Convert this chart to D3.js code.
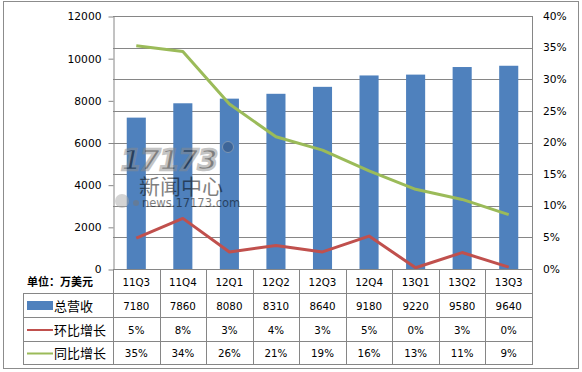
<!DOCTYPE html>
<html lang="zh">
<head>
<meta charset="utf-8">
<title>总营收 环比 同比</title>
<script src="https://d3js.org/d3.v7.min.js"></script>
<style>
  body { margin: 0; background: #fff; }
  svg { display: block; }
  text { font-family: "DejaVu Sans", Verdana, sans-serif; fill: #000; }
  .cjk { font-family: "Noto Sans CJK SC", sans-serif; }
</style>
</head>
<body>
<script>
// data
var quarters = ["11Q3", "11Q4", "12Q1", "12Q2", "12Q3", "12Q4", "13Q1", "13Q2", "13Q3"];
var revenue = [7180, 7860, 8080, 8310, 8640, 9180, 9220, 9580, 9640];
var qoq = [4.9, 8.0, 2.7, 3.7, 2.7, 5.2, 0.2, 2.6, 0.3];
var yoy = [35.3, 34.4, 26.1, 20.9, 18.8, 15.5, 12.6, 11.0, 8.6];
var leftTicks = [0, 2000, 4000, 6000, 8000, 10000, 12000];
var rightTicks = [0, 5, 10, 15, 20, 25, 30, 35, 40];
var seriesNames = ["总营收", "环比增长", "同比增长"];

var W = 582, H = 372;
var plotL = 113, plotR = 532, plotT = 16, plotB = 269;
var blue = "#4f81bd", red = "#c0504d", green = "#9bbb59";

var svg = d3.select("body").append("svg")
  .attr("width", W).attr("height", H);

// outer frame
svg.append("rect")
  .attr("x", 3.5).attr("y", 1.5)
  .attr("width", 575).attr("height", 367)
  .attr("fill", "none").attr("stroke", "#8c8c8c");

var x = d3.scaleBand().domain(quarters).range([plotL, plotR])
  .paddingInner(0.59).paddingOuter(0.295);
var yL = d3.scaleLinear().domain([0, 12000]).range([plotB, plotT]);
var yR = d3.scaleLinear().domain([0, 40]).range([plotB, plotT]);
var cx = function(q) { return x(q) + x.bandwidth() / 2; };

// grid (right axis units)
svg.append("g").selectAll("line").data(rightTicks).join("line")
  .attr("x1", plotL).attr("x2", plotR)
  .attr("y1", d => Math.round(yR(d)) + 0.5).attr("y2", d => Math.round(yR(d)) + 0.5)
  .attr("stroke", "#868686");

// right side of plot
svg.append("line").attr("x1", plotR + 0.5).attr("x2", plotR + 0.5)
  .attr("y1", plotT).attr("y2", plotB).attr("stroke", "#868686");

// left axis
var gL = svg.append("g").attr("transform", "translate(" + (plotL + 0.5) + ",0.5)")
  .call(d3.axisLeft(yL).tickValues(leftTicks).tickFormat(d3.format("d"))
    .tickSize(5).tickSizeOuter(0).tickPadding(7));
gL.selectAll("path, line").attr("stroke", "#868686");
gL.selectAll("text").style("font-family", "DejaVu Sans, Verdana, sans-serif")
  .style("font-size", "10.7px").attr("fill", "#000");

// right axis labels
svg.append("g").selectAll("text").data(rightTicks).join("text")
  .attr("x", 543).attr("y", d => yR(d))
  .attr("dy", "0.35em")
  .style("font-size", "10.7px")
  .text(d => d + "%");

// bars
svg.append("g").selectAll("rect").data(revenue).join("rect")
  .attr("x", (d, i) => x(quarters[i]))
  .attr("width", x.bandwidth())
  .attr("y", d => yL(d))
  .attr("height", d => plotB - yL(d))
  .attr("fill", blue);

// watermark (sits over the bars)
var wm = svg.append("g").attr("opacity", 0.5);
wm.append("text").attr("x", 121).attr("y", 170)
  .style("font-size", "29px").style("font-weight", "900").style("font-style", "italic")
  .attr("fill", "#eef2f8").attr("stroke", "#8a8a8a").attr("stroke-width", 2.5)
  .attr("letter-spacing", "-1px")
  .text("17173");
wm.append("circle").attr("cx", 228).attr("cy", 147).attr("r", 5.5)
  .attr("fill", "#2c4a75").attr("stroke", "#aaa");
wm.append("text").attr("class", "cjk").attr("x", 139).attr("y", 194)
  .style("font-size", "21px").attr("fill", "#9a9a9a")
  .text("新闻中心");
wm.append("circle").attr("cx", 122).attr("cy", 201).attr("r", 7).attr("fill", "#aaa");
wm.append("circle").attr("cx", 136).attr("cy", 203).attr("r", 3).attr("fill", "#777");
wm.append("text").attr("x", 142).attr("y", 207)
  .style("font-size", "11.5px").attr("fill", "#999")
  .text("news.17173.com");

// lines
var line = d3.line().x((d, i) => cx(quarters[i])).y(d => yR(d));
svg.append("path").datum(yoy).attr("d", line)
  .attr("fill", "none").attr("stroke", green).attr("stroke-width", 3)
  .attr("stroke-linejoin", "round");
svg.append("path").datum(qoq).attr("d", line)
  .attr("fill", "none").attr("stroke", red).attr("stroke-width", 3)
  .attr("stroke-linejoin", "round");

// bottom axis line
svg.append("line").attr("x1", plotL).attr("x2", plotR + 1)
  .attr("y1", plotB + 0.5).attr("y2", plotB + 0.5).attr("stroke", "#868686");

// data table
var rowY = [269, 293, 317, 341, 364];
var tableL = 23;
var tg = svg.append("g");
var colEdges = quarters.map(q => x(q) - x.step() * x.paddingInner() / 2).concat([plotR]);

tg.selectAll("line.v").data(colEdges).join("line")
  .attr("x1", d => Math.round(d) + 0.5).attr("x2", d => Math.round(d) + 0.5)
  .attr("y1", rowY[0]).attr("y2", rowY[4])
  .attr("stroke", "#868686");
tg.append("line").attr("x1", tableL + 0.5).attr("x2", tableL + 0.5)
  .attr("y1", rowY[1]).attr("y2", rowY[4]).attr("stroke", "#868686");
tg.append("g").selectAll("line").data(rowY.slice(1)).join("line")
  .attr("x1", tableL).attr("x2", plotR + 1)
  .attr("y1", d => d + 0.5).attr("y2", d => d + 0.5)
  .attr("stroke", "#868686");

var mid = function(r) { return (rowY[r] + rowY[r + 1]) / 2 + 1; };

tg.append("text").attr("class", "cjk")
  .attr("x", 27).attr("y", mid(0)).attr("dy", "0.35em")
  .style("font-size", "11px").style("font-weight", "bold")
  .text("单位：万美元");

var rows = [
  quarters,
  revenue.map(String),
  qoq.map(d => Math.round(d) + "%"),
  yoy.map(d => Math.round(d) + "%")
];
rows.forEach(function(vals, r) {
  tg.append("g").selectAll("text").data(vals).join("text")
    .attr("x", (d, i) => cx(quarters[i]))
    .attr("y", mid(r)).attr("dy", "0.35em")
    .attr("text-anchor", "middle")
    .style("font-size", "10.3px")
    .text(d => d);
});

// legend keys
tg.append("rect").attr("x", 27).attr("y", mid(1) - 5)
  .attr("width", 26).attr("height", 9).attr("fill", blue);
tg.append("line").attr("x1", 27).attr("x2", 53)
  .attr("y1", mid(2)).attr("y2", mid(2))
  .attr("stroke", red).attr("stroke-width", 2);
tg.append("line").attr("x1", 27).attr("x2", 53)
  .attr("y1", mid(3)).attr("y2", mid(3))
  .attr("stroke", green).attr("stroke-width", 2);
tg.append("g").selectAll("text").data(seriesNames).join("text")
  .attr("class", "cjk")
  .attr("x", 54).attr("y", (d, i) => mid(i + 1)).attr("dy", "0.35em")
  .style("font-size", "13px")
  .text(d => d);
</script>
</body>
</html>
